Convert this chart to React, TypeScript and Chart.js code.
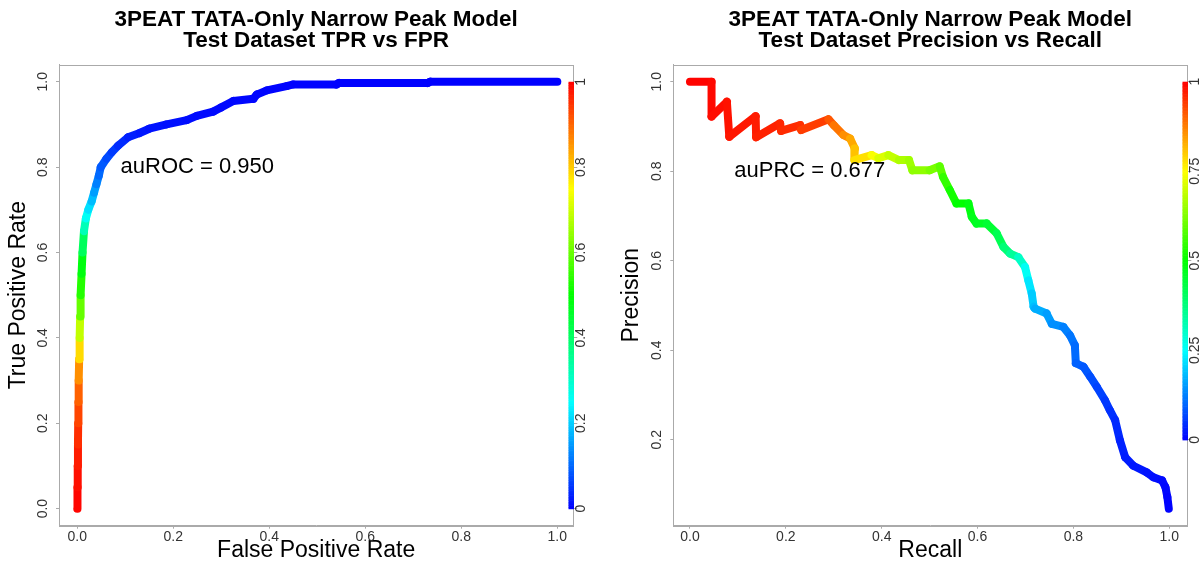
import React, { useEffect, useRef } from 'react';
import { Chart, registerables } from 'chart.js';

Chart.register(...registerables);

const FONT = "'Liberation Sans', Arial, Helvetica, sans-serif";
const BOX = '#aaaaaa';
const TICK = '#333333';

// ROC curve (False Positive Rate, True Positive Rate, cutoff)
const rocFpr = [0, 0.0005, 0.001, 0.0015, 0.002, 0.0025, 0.003, 0.004, 0.005, 0.006, 0.007, 0.009, 0.011, 0.014, 0.018, 0.023, 0.030, 0.035, 0.040, 0.045, 0.049, 0.061, 0.072, 0.085, 0.106, 0.13, 0.15, 0.186, 0.228, 0.249, 0.283, 0.30, 0.325, 0.367, 0.374, 0.395, 0.436, 0.45, 0.54, 0.545, 0.73, 0.735, 1.0];
const rocTpr = [0, 0.05, 0.10, 0.15, 0.20, 0.25, 0.30, 0.35, 0.40, 0.45, 0.50, 0.55, 0.60, 0.65, 0.68, 0.70, 0.72, 0.74, 0.76, 0.78, 0.80, 0.82, 0.835, 0.85, 0.87, 0.88, 0.89, 0.90, 0.91, 0.92, 0.93, 0.94, 0.955, 0.96, 0.97, 0.98, 0.99, 0.9937, 0.9937, 0.997, 0.997, 1.0, 1.0];
const rocCutoff = [1.0, 0.99, 0.98, 0.965, 0.945, 0.92, 0.89, 0.83, 0.74, 0.64, 0.56, 0.51, 0.46, 0.36, 0.28, 0.24, 0.2, 0.17, 0.14, 0.11, 0.095, 0.08, 0.065, 0.05, 0.035, 0.025, 0.02, 0.016, 0.013, 0.011, 0.009, 0.008, 0.007, 0.006, 0.005, 0.004, 0.003, 0.002, 0.0015, 0.001, 0.0008, 0.0005, 0.0];

// Precision-Recall curve (Recall, Precision, cutoff)
const prRecall = [0.0, 0.045, 0.045, 0.077, 0.082, 0.137, 0.138, 0.188, 0.19, 0.23, 0.232, 0.289, 0.30, 0.32, 0.334, 0.344, 0.343, 0.379, 0.393, 0.414, 0.436, 0.457, 0.464, 0.50, 0.521, 0.528, 0.542, 0.556, 0.581, 0.588, 0.598, 0.619, 0.64, 0.654, 0.668, 0.685, 0.699, 0.706, 0.713, 0.717, 0.720, 0.744, 0.755, 0.779, 0.793, 0.803, 0.805, 0.821, 0.835, 0.849, 0.866, 0.876, 0.887, 0.897, 0.908, 0.925, 0.953, 0.967, 0.985, 0.992, 0.996, 0.999];
const prPrecision = [1.0, 1.0, 0.922, 0.955, 0.877, 0.923, 0.876, 0.907, 0.89, 0.903, 0.892, 0.916, 0.903, 0.881, 0.873, 0.851, 0.825, 0.836, 0.829, 0.836, 0.825, 0.825, 0.802, 0.802, 0.811, 0.787, 0.758, 0.728, 0.728, 0.698, 0.683, 0.683, 0.661, 0.631, 0.616, 0.608, 0.586, 0.556, 0.527, 0.497, 0.493, 0.482, 0.459, 0.452, 0.433, 0.411, 0.371, 0.363, 0.341, 0.318, 0.288, 0.266, 0.244, 0.199, 0.161, 0.142, 0.127, 0.116, 0.109, 0.094, 0.072, 0.046];
const prCutoff = [1.0, 0.995, 0.99, 0.985, 0.98, 0.975, 0.97, 0.965, 0.96, 0.955, 0.95, 0.93, 0.9, 0.87, 0.85, 0.82, 0.8, 0.76, 0.73, 0.7, 0.68, 0.66, 0.65, 0.63, 0.61, 0.57, 0.53, 0.51, 0.49, 0.48, 0.47, 0.46, 0.44, 0.40, 0.37, 0.33, 0.28, 0.24, 0.21, 0.19, 0.18, 0.16, 0.15, 0.13, 0.12, 0.11, 0.10, 0.09, 0.08, 0.07, 0.06, 0.05, 0.045, 0.035, 0.03, 0.025, 0.02, 0.015, 0.01, 0.007, 0.004, 0.0];

// Tick labels
const xTicks = [0, 0.2, 0.4, 0.6, 0.8, 1.0];
const rocYTicks = [0, 0.2, 0.4, 0.6, 0.8, 1.0];
const prYTicks = [0.2, 0.4, 0.6, 0.8, 1.0];
const rocBarTicks = [0, 0.2, 0.4, 0.6, 0.8, 1];
const prBarTicks = [0, 0.25, 0.5, 0.75, 1];

const titleLine1 = '3PEAT TATA-Only Narrow Peak Model';
const rocTitle2 = 'Test Dataset TPR vs FPR';
const prTitle2 = 'Test Dataset Precision vs Recall';
const rocAucText = 'auROC = 0.950';
const prAucText = 'auPRC = 0.677';

function cutoffColor(v: number) {
  const c = Math.max(0, Math.min(1, v));
  return `hsl(${240 * (1 - c)},100%,50%)`;
}

function Panel(props: any) {
  const ref = useRef<HTMLCanvasElement>(null);
  useEffect(() => {
    const p = props;
    const data = p.xs.map((x: number, i: number) => ({ x, y: p.ys[i] }));
    const cuts = p.cuts;
    const boxPlugin = {
      id: 'boxAndBar',
      beforeDatasetsDraw(chart: any) {
        const { ctx, chartArea: a } = chart;
        ctx.save();
        ctx.strokeStyle = BOX;
        ctx.lineWidth = 1;
        ctx.strokeRect(Math.round(a.left) + 0.5, Math.round(a.top) + 0.5, Math.round(a.right - a.left), Math.round(a.bottom - a.top));
        ctx.restore();
      },
      afterDatasetsDraw(chart: any) {
        const { ctx, chartArea: a, scales } = chart;
        const cb = scales.cb;
        const y0 = cb.getPixelForValue(0);
        const y1 = cb.getPixelForValue(1);
        const n = 256;
        ctx.save();
        for (let i = 0; i < n; i++) {
          const ya = y0 + ((y1 - y0) * i) / n;
          const yb = y0 + ((y1 - y0) * (i + 1)) / n;
          ctx.fillStyle = cutoffColor((i + 0.5) / n);
          ctx.fillRect(a.right - 4.8, yb, 5.5, ya - yb + 0.6);
        }
        ctx.fillStyle = '#000';
        ctx.font = `22px ${FONT}`;
        ctx.textAlign = 'center';
        ctx.textBaseline = 'middle';
        ctx.fillText(p.annText, scales.x.getPixelForValue(p.annX), scales.y.getPixelForValue(p.annY));
        ctx.restore();
      },
    };

    const chart = new Chart(ref.current as HTMLCanvasElement, {
      type: 'line',
      data: {
        datasets: [
          {
            data,
            borderWidth: 8,
            borderCapStyle: 'round',
            borderJoinStyle: 'round',
            pointRadius: 0,
            tension: 0,
            fill: false,
            borderColor: cutoffColor(0),
            segment: {
              borderColor: (c: any) => cutoffColor((cuts[c.p0DataIndex] + cuts[c.p1DataIndex]) / 2),
            },
          } as any,
        ],
      },
      options: {
        responsive: false,
        animation: false,
        events: [],
        layout: { padding: 0 },
        plugins: {
          legend: { display: false },
          tooltip: { enabled: false },
          title: {
            display: true,
            fullSize: false,
            text: [titleLine1, p.title2],
            color: '#000',
            font: { family: FONT, size: 22.5, weight: 'bold', lineHeight: 21.5 / 22.5 },
            padding: { top: 8.7, bottom: 13 },
          } as any,
        },
        scales: {
          x: {
            type: 'linear',
            min: p.xMin,
            max: p.xMax,
            afterBuildTicks: (s: any) => {
              s.ticks = xTicks.map((v) => ({ value: v }));
            },
            afterFit: (s: any) => {
              s.height = 41.3;
            },
            grid: { drawOnChartArea: false, color: BOX, tickLength: 3 },
            border: { display: true, color: BOX },
            ticks: {
              padding: 0,
              color: TICK,
              font: { family: FONT, size: 14 },
              minRotation: 0,
              maxRotation: 0,
              callback: (v: any) => Number(v).toFixed(1),
            },
            title: {
              display: true,
              text: p.xLabel,
              color: '#000',
              font: { family: FONT, size: 23, lineHeight: 1 },
              padding: { top: 0, bottom: 4.5 },
            },
          },
          y: {
            type: 'linear',
            position: 'left',
            min: p.yMin,
            max: p.yMax,
            afterBuildTicks: (s: any) => {
              s.ticks = p.yTicks.map((v: number) => ({ value: v }));
            },
            afterFit: (s: any) => {
              s.width = p.yAxisWidth;
            },
            grid: { drawOnChartArea: false, color: BOX, tickLength: 3 },
            border: { display: true, color: BOX },
            ticks: {
              padding: 3,
              color: TICK,
              font: { family: FONT, size: 14 },
              minRotation: 90,
              maxRotation: 90,
              crossAlign: 'center',
              callback: (v: any) => Number(v).toFixed(1),
            },
            title: {
              display: true,
              text: p.yLabel,
              color: '#000',
              font: { family: FONT, size: 23, lineHeight: 1 },
              padding: { top: p.yTitlePad, bottom: 0 },
            },
          },
          cb: {
            type: 'linear',
            position: 'right',
            min: p.cbMin,
            max: p.cbMax,
            afterBuildTicks: (s: any) => {
              s.ticks = p.cbTicks.map((v: number) => ({ value: v }));
            },
            afterFit: (s: any) => {
              s.width = p.cbWidth;
            },
            grid: { drawOnChartArea: false, color: BOX, tickLength: 4 },
            border: { display: false },
            ticks: {
              padding: p.cbLabelPad,
              color: TICK,
              font: { family: FONT, size: 14 },
              minRotation: 90,
              maxRotation: 90,
              crossAlign: 'center',
              callback: (v: any) => String(v),
            },
          },
        } as any,
      },
      plugins: [boxPlugin],
    } as any);
    return () => chart.destroy();
  }, []);
  return <canvas ref={ref} width={601} height={567} style={{ display: 'block', width: 601, height: 567 }} />;
}

export default function App() {
  return (
    <div style={{ position: 'fixed', left: 0, top: 0, width: 1202, height: 567, background: '#fff', display: 'flex' }}>
      <Panel
        xs={rocFpr}
        ys={rocTpr}
        cuts={rocCutoff}
        xMin={-0.038}
        xMax={1.0333}
        yMin={-0.04}
        yMax={1.04}
        yTicks={rocYTicks}
        cbMin={-0.04}
        cbMax={1.04}
        cbTicks={rocBarTicks}
        cbWidth={27.7}
        cbLabelPad={-6}
        yAxisWidth={59}
        yTitlePad={7.5}
        title2={rocTitle2}
        xLabel="False Positive Rate"
        yLabel="True Positive Rate"
        annText={rocAucText}
        annX={0.25}
        annY={0.8}
      />
      <Panel
        xs={prRecall}
        ys={prPrecision}
        cuts={prCutoff}
        xMin={-0.0348}
        xMax={1.0376}
        yMin={0.008}
        yMax={1.038}
        yTicks={prYTicks}
        cbMin={-0.24}
        cbMax={1.0475}
        cbTicks={prBarTicks}
        cbWidth={14.7}
        cbLabelPad={-9.9}
        yAxisWidth={72.3}
        yTitlePad={19.5}
        title2={prTitle2}
        xLabel="Recall"
        yLabel="Precision"
        annText={prAucText}
        annX={0.25}
        annY={0.8}
      />
    </div>
  );
}
